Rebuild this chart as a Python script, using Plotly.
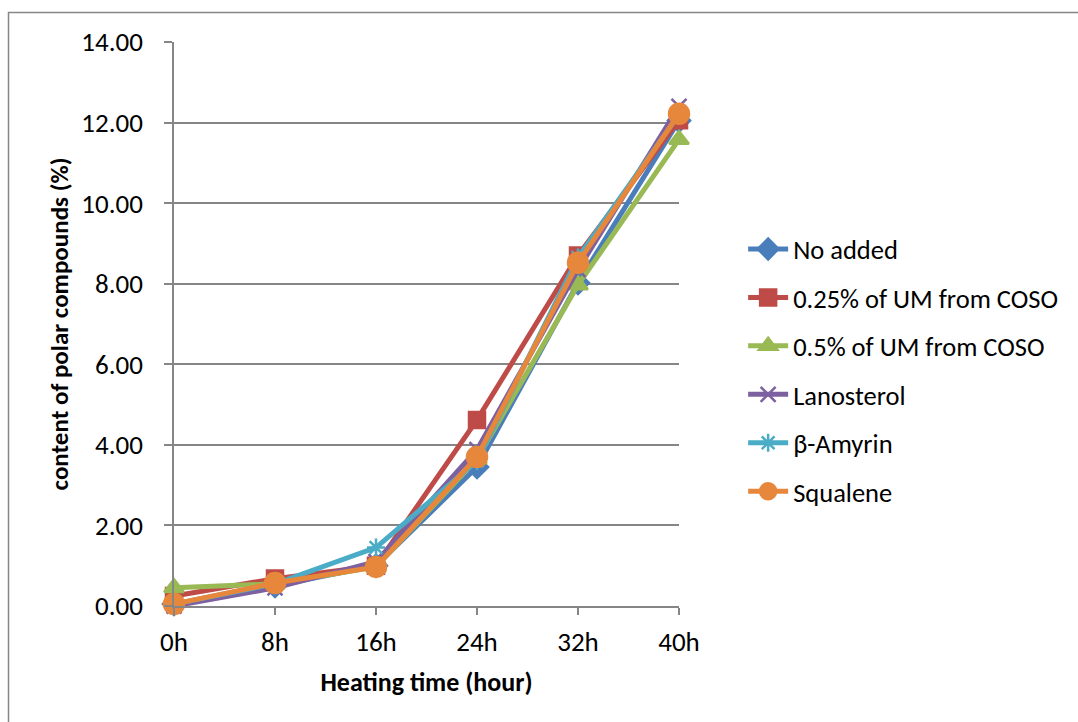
import plotly.graph_objects as go

categories = ["0h", "8h", "16h", "24h", "32h", "40h"]
no_added = [0.05, 0.50, 1.00, 3.45, 8.02, 12.05]
um_025 = [0.25, 0.68, 1.00, 4.62, 8.70, 12.06]
um_05 = [0.45, 0.55, 0.97, 3.65, 7.97, 11.58]
lanosterol = [0.00, 0.45, 1.10, 3.88, 8.35, 12.40]
b_amyrin = [0.05, 0.55, 1.45, 3.60, 8.65, 12.20]
squalene = [0.05, 0.57, 0.97, 3.70, 8.52, 12.22]

series = [
    ("No added", no_added, "#4A7EBB", "diamond", 17),
    ("0.25% of UM from COSO", um_025, "#BE4B48", "square", 16),
    ("0.5% of UM from COSO", um_05, "#98B954", "triangle-up", 17),
    ("Lanosterol", lanosterol, "#7D60A0", "x-thin", 15),
    ("β-Amyrin", b_amyrin, "#4AACC6", "asterisk", 15),
    ("Squalene", squalene, "#E6873C", "circle", 20),
]

FONT = "Carlito, Lato, sans-serif"
fig = go.Figure()
for i, (name, vals, col, sym, sz) in enumerate(series):
    fig.add_trace(go.Scatter(
        x=categories, y=vals, name=name, mode="lines+markers",
        legendgroup=f"g{i}",
        line=dict(color=col, width=5),
        marker=dict(symbol=sym, size=sz, color=col,
                    line=dict(color=col, width=2.5)),
        cliponaxis=False,
    ))

fig.update_layout(
    width=1078, height=722,
    margin=dict(l=174, r=399, t=42, b=116),
    paper_bgcolor="white", plot_bgcolor="white",
    font=dict(family=FONT, size=27, color="black"),
    showlegend=True,
    legend=dict(x=1.127, xanchor="left", y=0.418, yanchor="middle",
                font=dict(size=26.5), tracegroupgap=11,
                bgcolor="rgba(0,0,0,0)", itemwidth=40),
    xaxis=dict(type="category", range=[0, 5], showline=True,
               linecolor="#868686", linewidth=1.5, ticks="outside",
               ticklen=7, tickcolor="#868686", tickwidth=1.5,
               showgrid=False, zeroline=False, ticklabelstandoff=4,
               title=dict(text="<b>Heating time (hour)</b>",
                          font=dict(size=26), standoff=16)),
    yaxis=dict(range=[0, 14], dtick=2, tickformat=".2f", showline=True,
               linecolor="#868686", linewidth=1.5, ticks="outside",
               ticklen=8, tickcolor="#868686", tickwidth=1.5,
               showgrid=True, gridcolor="#868686", gridwidth=1.5,
               zeroline=False, ticklabelstandoff=16,
               title=dict(text="<b>content of polar compounds (%)</b>",
                          font=dict(size=25), standoff=6)),
)

# outer chart border
fig.add_shape(type="rect", xref="paper", yref="paper",
              x0=(8.5 - 174) / 505, x1=(1090 - 174) / 505,
              y0=(606 - 735) / 564, y1=(606 - 12.5) / 564,
              line=dict(color="#868686", width=1.5), layer="below")

fig.write_html("out.html")
